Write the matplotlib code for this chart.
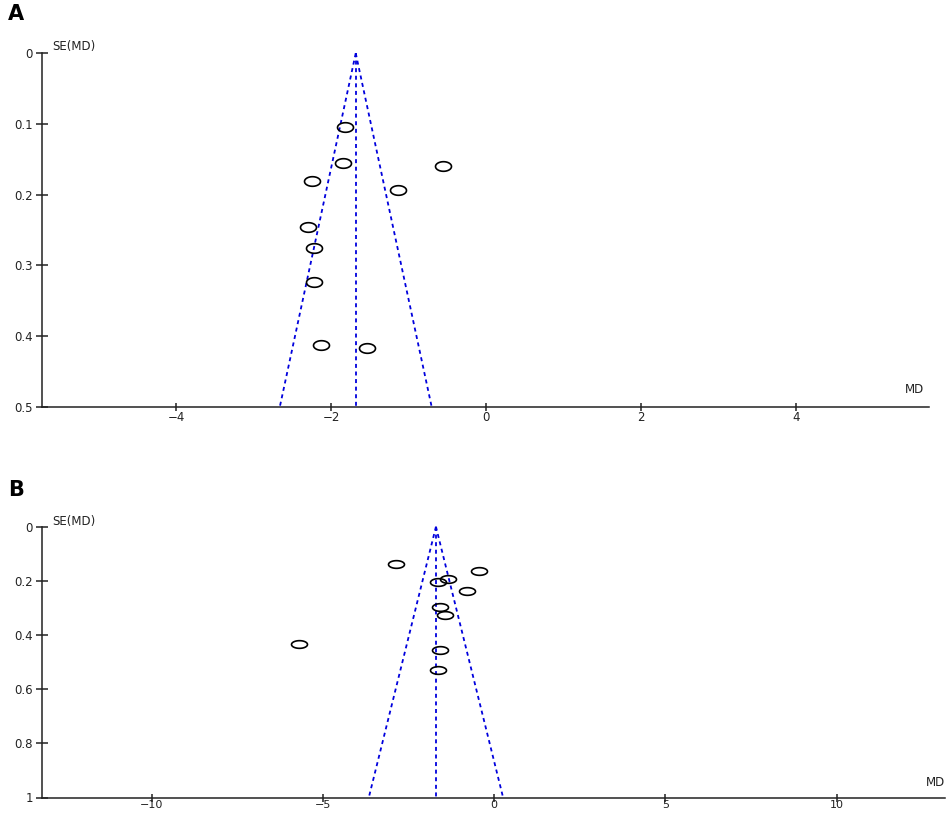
import numpy as np
import matplotlib
matplotlib.use("Agg")
import matplotlib.pyplot as plt
from matplotlib.path import Path

# ---- Data ----
# Panel A
a_md = [-1.82, -1.84, -0.56, -2.24, -1.14, -2.30, -2.22, -2.22, -2.13, -1.53]
a_se = [0.104, 0.155, 0.159, 0.180, 0.193, 0.246, 0.276, 0.323, 0.413, 0.417]
a_pooled = -1.68
a_se_max = 0.5
a_xticks = [-4, -2, 0, 2, 4]
a_yticks = [0, 0.1, 0.2, 0.3, 0.4, 0.5]
a_yticklabels = ["0", "0.1", "0.2", "0.3", "0.4", "0.5"]

# Panel B
b_md = [-2.88, -0.45, -1.34, -1.63, -0.78, -1.58, -1.44, -1.58, -1.63, -5.70]
b_se = [0.138, 0.165, 0.192, 0.203, 0.239, 0.296, 0.327, 0.455, 0.531, 0.433]
b_pooled = -1.70
b_se_max = 1.0
b_xticks = [-10, -5, 0, 5, 10]
b_yticks = [0, 0.2, 0.4, 0.6, 0.8, 1]
b_yticklabels = ["0", "0.2", "0.4", "0.6", "0.8", "1"]

z = 1.96

W, H = 948, 815
fig = plt.figure(figsize=(W / 100, H / 100), dpi=100)


def ellipse_marker(ratio):
    t = np.linspace(0, 2 * np.pi, 80)
    verts = np.column_stack([np.cos(t), ratio * np.sin(t)])
    return Path(verts, closed=True)


def funnel(ax, md, se, pooled, se_max, xlim, xticks, yticks, yticklabels, ratio, mdlabel_x, xpad):
    blue = "#0000dd"
    ls = (0, (2.2, 2.0))
    ax.plot([pooled, pooled - z * se_max], [0, se_max], color=blue, lw=1.3, linestyle=ls, clip_on=False)
    ax.plot([pooled, pooled + z * se_max], [0, se_max], color=blue, lw=1.3, linestyle=ls, clip_on=False)
    ax.plot([pooled, pooled], [0, se_max], color=blue, lw=1.3, linestyle=ls, clip_on=False)
    ax.plot(md, se, linestyle="none", marker=ellipse_marker(ratio), markersize=11.5,
            markerfacecolor="none", markeredgecolor="black", markeredgewidth=1.2, clip_on=False)
    ax.set_xlim(*xlim)
    ax.set_ylim(se_max, 0)
    ax.set_xticks(xticks)
    ax.set_xticklabels([str(v).replace("-", "\u2212") for v in xticks])
    ax.set_yticks(yticks)
    ax.set_yticklabels(yticklabels)
    for s in ["top", "right"]:
        ax.spines[s].set_visible(False)
    for s in ["left", "bottom"]:
        ax.spines[s].set_linewidth(1.1)
        ax.spines[s].set_color("#222222")
    ax.tick_params(axis="both", direction="inout", width=1.1, color="#222222",
                   labelsize=8.5, labelcolor="#222222")
    ax.tick_params(axis="y", length=9, pad=2)
    ax.tick_params(axis="x", length=6, pad=xpad)
    ax.text(0.011, 1.02, "SE(MD)", transform=ax.transAxes, fontsize=8.5,
            ha="left", va="center", color="#222222")
    ax.text(mdlabel_x, 0.03, "MD", transform=ax.transAxes, fontsize=8.5,
            ha="right", va="bottom", color="#222222")


axA = fig.add_axes([42 / W, 1 - 406.8 / H, 887 / W, (406.8 - 53.3) / H])
funnel(axA, a_md, a_se, a_pooled, a_se_max, (-5.73, 5.72), a_xticks, a_yticks, a_yticklabels,
       0.6, 0.995, 0)

axB = fig.add_axes([42 / W, 1 - 797.5 / H, 903 / W, (797.5 - 526.7) / H])
funnel(axB, b_md, b_se, b_pooled, b_se_max, (-13.2, 13.16), b_xticks, b_yticks, b_yticklabels,
       0.48, 1.0, -1)
axB.tick_params(axis="x", labelsize=8)

fig.text(8 / W, 1 - 14 / H, "A", fontsize=15, fontweight="bold", ha="left", va="center")
fig.text(8 / W, 1 - 490 / H, "B", fontsize=15, fontweight="bold", ha="left", va="center")

fig.savefig("out.png", dpi=100)
